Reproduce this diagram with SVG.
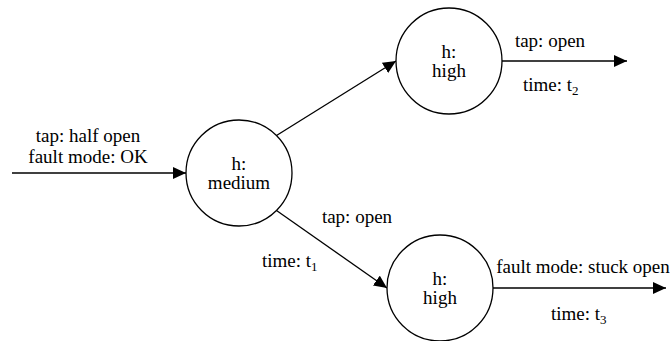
<svg xmlns="http://www.w3.org/2000/svg" width="671" height="341" viewBox="0 0 671 341">
  <style>
    .state { fill: #fff; stroke: #000; stroke-width: 1.3; }
    .edge { fill: none; stroke: #000; stroke-width: 1.3; marker-end: url(#arrow); }
    .lbl { font-family: 'Liberation Serif', 'Times New Roman', Times, serif; font-size: 19px; fill: #000; }
    .mid { text-anchor: middle; }
    .sub { font-size: 13px; }
  </style>
  <defs>
    <marker id="arrow" markerUnits="userSpaceOnUse" markerWidth="13" markerHeight="12" refX="13" refY="6" orient="auto">
      <path d="M0,0 L13,6 L0,12 Z" fill="#000"/>
    </marker>
  </defs>

  <!-- transitions -->
  <g id="connectors">
    <line class="edge" x1="12" y1="173" x2="186" y2="173"/>
    <line class="edge" x1="276.5" y1="135.5" x2="396" y2="61"/>
    <line class="edge" x1="276.5" y1="210.5" x2="387" y2="288"/>
    <line class="edge" x1="502" y1="61" x2="627" y2="61"/>
    <line class="edge" x1="493" y1="288" x2="666" y2="288"/>

    <g class="lbl">
      <text class="mid" x="88" y="142">tap: half open</text>
      <text class="mid" x="88" y="163">fault mode: OK</text>

      <text class="mid" x="550" y="47">tap: open</text>
      <text x="523" y="91">time: t<tspan class="sub" dy="4">2</tspan></text>

      <text class="mid" x="357" y="223">tap: open</text>
      <text x="262" y="267">time: t<tspan class="sub" dy="4">1</tspan></text>

      <text class="mid" x="583" y="273">fault mode: stuck open</text>
      <text x="551" y="320">time: t<tspan class="sub" dy="4">3</tspan></text>
    </g>
  </g>

  <!-- states -->
  <g id="state-medium" class="lbl">
    <circle class="state" cx="239" cy="173" r="53"/>
    <text class="mid" x="239" y="170">h:</text>
    <text class="mid" x="239" y="189">medium</text>
  </g>
  <g id="state-high-top" class="lbl">
    <circle class="state" cx="449" cy="61" r="53"/>
    <text class="mid" x="449" y="58">h:</text>
    <text class="mid" x="449" y="77">high</text>
  </g>
  <g id="state-high-bottom" class="lbl">
    <circle class="state" cx="440" cy="288" r="53"/>
    <text class="mid" x="440" y="285">h:</text>
    <text class="mid" x="440" y="304">high</text>
  </g>
</svg>
